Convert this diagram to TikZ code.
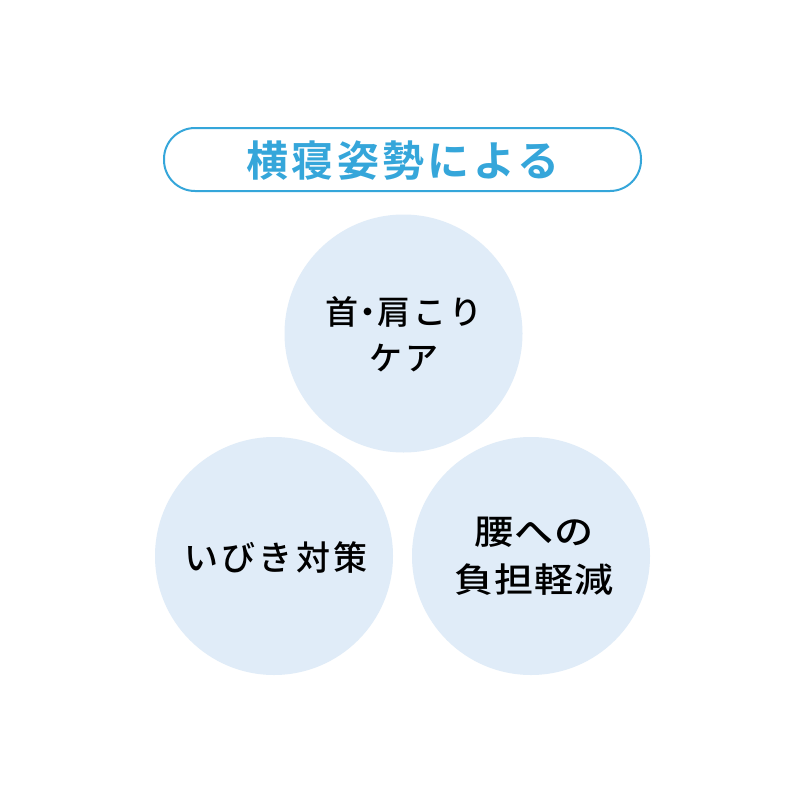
\documentclass[tikz,border=0pt]{standalone}
\usepackage{fontspec}
\newfontfamily\jpfont{Noto Sans CJK JP Medium}[LetterSpace=10]
\newfontfamily\jpwide{Noto Sans CJK JP Medium}[FakeStretch=1.15,LetterSpace=2]
\newfontfamily\jpbold{Noto Sans CJK JP Bold}[LetterSpace=8]
\definecolor{titleblue}{HTML}{35A6DA}
\definecolor{circfill}{HTML}{E0ECF8}
\tikzset{
  bubble/.style={circle, fill=circfill, minimum size=238pt, inner sep=0pt},
  bubtext/.style={font=\jpfont\fontsize{33}{46}\selectfont, text=black, align=center},
  lefttext/.style={font=\jpfont\fontsize{34}{46}\selectfont, text=black, align=center},
  widetext/.style={font=\jpwide\fontsize{34}{48}\selectfont, text=black, align=center},
  titlebox/.style={draw=titleblue, line width=2pt, rounded corners=31pt, minimum width=477pt, minimum height=63pt},
  titletext/.style={font=\jpbold\fontsize{42}{50}\selectfont, text=titleblue}
}
\begin{document}
\begin{tikzpicture}[x=1pt,y=-1pt]
\useasboundingbox (0,0) rectangle (800,800);
\fill[white] (0,0) rectangle (800,800);
\node[titlebox] (box) at (402.5,159.5) {};
\node[titletext] (title) at (403,161) {横寝姿勢による};
\node[bubble] (top) at (403.5,333.5) {};
\node[bubble] (left) at (274,556) {};
\node[bubble] (right) at (531,556) {};
\node[bubtext] (ttop) at (404,334) {首\hspace{-7pt}・\hspace{-7pt}肩こり\\ケア};
\node[lefttext] (tleft) at (276,557) {いびき対策};
\node[widetext] (tright) at (534,556) {腰への\\負担軽減};
\end{tikzpicture}
\end{document}
